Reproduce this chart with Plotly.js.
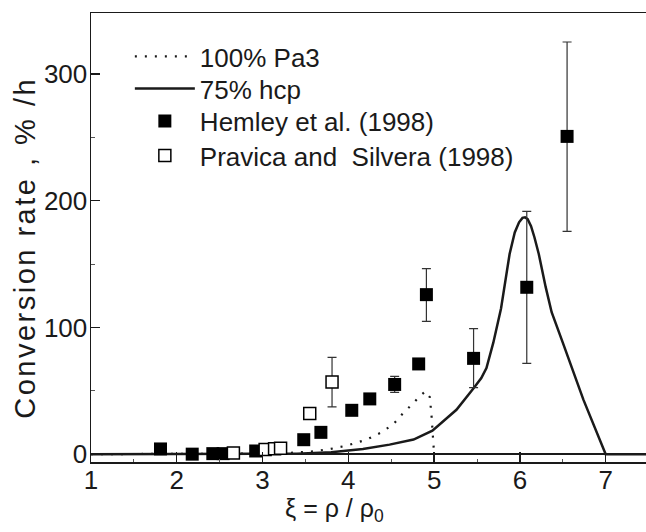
<!DOCTYPE html>
<html>
<head>
<meta charset="utf-8">
<script src="https://cdn.plot.ly/plotly-3.0.1.min.js"></script>
<style>html,body{margin:0;padding:0;background:#fff;}#chart{width:646px;height:532px;}</style>
</head>
<body>
<div id="chart"></div>
<script>
// Model curves
const pa3X = [1, 3.0, 3.2, 3.4, 3.59, 3.79, 3.98, 4.21, 4.37, 4.52, 4.64, 4.76, 4.83, 4.9, 4.95, 4.97, 4.99, 5.0];
const pa3Y = [0, 0, 0.5, 1.4, 2.2, 4.1, 6.7, 11.4, 16.7, 23.3, 32.5, 40.4, 45.6, 49.6, 45, 30, 10, 0];

const hcpX = [1, 3.0, 3.4, 3.8, 4.17, 4.48, 4.76, 4.98, 5.26, 5.46, 5.55, 5.61, 5.69, 5.78, 5.88, 5.94, 5.99, 6.03, 6.06, 6.09, 6.13, 6.17, 6.22, 6.3, 6.37, 6.5, 6.74, 7.0, 7.47];
const hcpY = [0, 0, 0.3, 1.5, 4, 7.5, 11.5, 18.5, 35, 52, 60, 68, 88, 115, 158, 175, 183, 186.5, 187, 185.5, 180, 171, 158, 132, 112, 88, 43, 0, 0];

// Hemley et al. (1998)
const hemX = [1.81, 2.18, 2.42, 2.54, 2.92, 3.48, 3.68, 4.04, 4.25, 4.54, 4.82, 4.91, 5.46, 6.08, 6.55];
const hemY = [4.1, 0, 0.4, 0.4, 2.5, 11.4, 17.2, 34.6, 43.6, 55, 71.2, 125.9, 75.6, 131.7, 250.8];
const hemErrPlus  = [0, 0, 0, 0, 0, 0, 0, 0, 0, 6.4, 0, 20.5, 23.4, 59.9, 74.5];
const hemErrMinus = [0, 0, 0, 0, 0, 0, 0, 0, 0, 6.2, 0, 21.1, 23.1, 60.0, 74.9];

// Pravica and Silvera (1998)
const praX = [2.66, 3.03, 3.14, 3.21, 3.55, 3.81];
const praY = [1, 3.6, 4.2, 4.6, 32, 57];
const praErrPlus  = [0, 3, 3, 3, 0, 19.4];
const praErrMinus = [4, 3, 3, 3, 0, 19.7];

const xTicks = [1, 2, 3, 4, 5, 6, 7];
const yTicks = [0, 100, 200, 300];

const ink = '#1a1a1a';
const fontFam = 'Liberation Sans, Arial, Helvetica, sans-serif';

const traces = [
  {x: pa3X, y: pa3Y, mode: 'lines', name: '100% Pa3', legend: 'legend',
   line: {color: ink, width: 2.2, dash: '2px,8px'}},
  {x: hcpX, y: hcpY, mode: 'lines', name: '75% hcp', legend: 'legend2',
   line: {color: ink, width: 2.5}},
  {x: hemX, y: hemY, mode: 'markers', name: 'Hemley et al. (1998)', legend: 'legend3',
   marker: {symbol: 'square', size: 13, color: '#000'},
   error_y: {type: 'data', symmetric: false, array: hemErrPlus, arrayminus: hemErrMinus,
             color: '#333', thickness: 1.2, width: 4.5}},
  {x: praX, y: praY, mode: 'markers', name: 'Pravica and  Silvera (1998)', legend: 'legend4',
   marker: {symbol: 'square', size: 12, color: '#fff', line: {color: '#000', width: 1.5}},
   error_y: {type: 'data', symmetric: false, array: praErrPlus, arrayminus: praErrMinus,
             color: '#333', thickness: 1.2, width: 4.5}}
];

function leg(yPx) {
  return {x: 0.07, y: (462 - yPx) / 449, xanchor: 'left', yanchor: 'middle',
          bgcolor: 'rgba(0,0,0,0)', borderwidth: 0, itemwidth: 60,
          font: {family: fontFam, size: 26, color: ink}};
}

const layout = {
  width: 646, height: 532,
  margin: {l: 91, r: 0, t: 13, b: 70},
  paper_bgcolor: '#fff', plot_bgcolor: '#fff',
  font: {family: fontFam, size: 26, color: ink},
  showlegend: true,
  legend: leg(56.5),
  legend2: leg(88.5),
  legend3: leg(121),
  legend4: leg(155.5),
  xaxis: {range: [1, 7.47], tickvals: xTicks, ticktext: xTicks.map(String),
          ticks: 'inside', ticklen: 10, tickwidth: 1.3, tickcolor: ink,
          ticklabelstandoff: -6,
          minor: {dtick: 0.5, tick0: 1, ticks: 'inside', ticklen: 3, tickwidth: 1, tickcolor: '#555'},
          showline: true, linecolor: ink, linewidth: 1.5, mirror: true,
          showgrid: false, zeroline: false,
          tickfont: {family: fontFam, size: 26, color: ink}},
  yaxis: {range: [-6.2, 348.2], tickvals: yTicks, ticktext: yTicks.map(String),
          ticks: 'inside', ticklen: 9, tickwidth: 1.3, tickcolor: ink,
          ticklabelstandoff: -3,
          minor: {tickvals: [50, 150, 250], ticks: 'inside', ticklen: 4, tickwidth: 1, tickcolor: '#555'},
          showline: true, linecolor: ink, linewidth: 1.5,
          showgrid: false, zeroline: true, zerolinecolor: ink, zerolinewidth: 2.5,
          tickfont: {family: fontFam, size: 26, color: ink}},
  annotations: [
    {text: '<span style="letter-spacing:2.5px">Conversion rate , % /h</span>', textangle: -90, xref: 'paper', yref: 'paper',
     x: -0.119, y: 0.477, xanchor: 'center', yanchor: 'middle', showarrow: false,
     font: {family: fontFam, size: 29, color: ink}},
    {text: 'ξ = ρ / ρ<sub>0</sub>', xref: 'paper', yref: 'paper',
     x: 0.438, y: -0.108, xanchor: 'center', yanchor: 'middle', showarrow: false,
     font: {family: fontFam, size: 25, color: ink}}
  ]
};

Plotly.newPlot('chart', traces, layout, {displayModeBar: false, staticPlot: true});
</script>
</body>
</html>
